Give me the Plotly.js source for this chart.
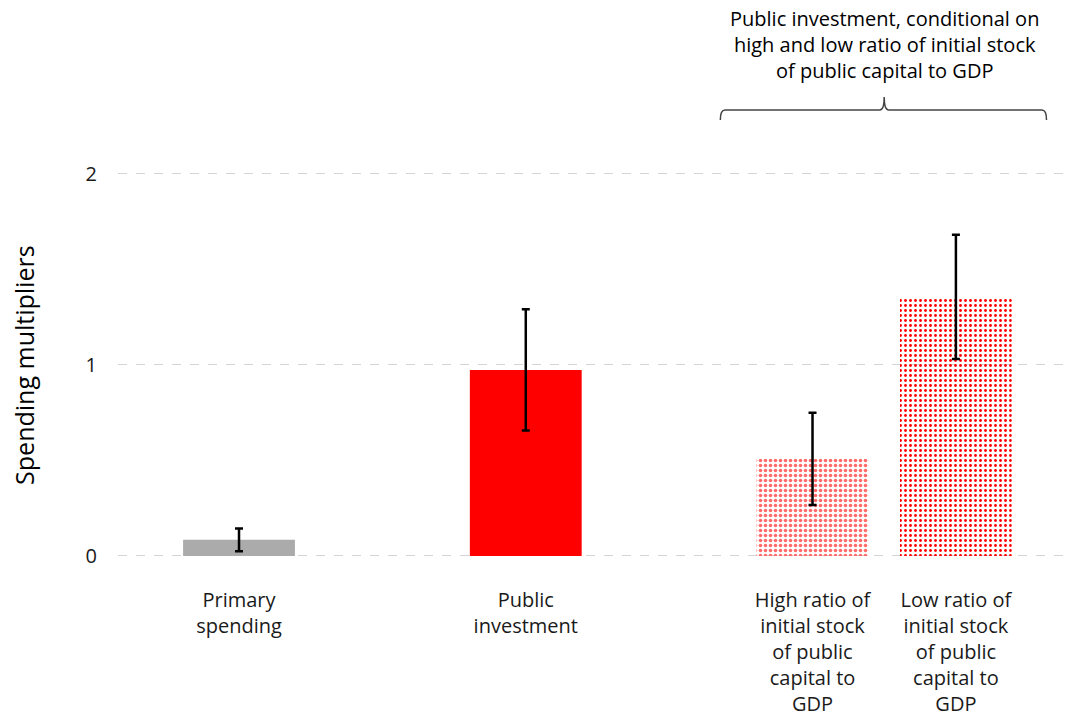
<!DOCTYPE html>
<html>
<head>
<meta charset="utf-8">
<script src="https://cdn.plot.ly/plotly-3.0.1.min.js"></script>
<style>html,body{margin:0;padding:0;background:#fff;}#chart{width:1065px;height:723px;}</style>
</head>
<body>
<div id="chart"></div>
<script>
// Data
const categories = ["Primary<br>spending", "Public<br>investment", "High ratio of<br>initial stock<br>of public<br>capital to<br>GDP", "Low ratio of<br>initial stock<br>of public<br>capital to<br>GDP"];
const positions = [0, 2, 4, 5];
const multipliers = [0.084, 0.974, 0.508, 1.356];
const errorHalfWidth = [0.06, 0.318, 0.241, 0.325];
const yTickVals = [0, 1, 2];
const yTickText = ["0", "1", "2"];
const yTitle = "Spending multipliers";
const groupNote = "Public investment, conditional on<br>high and low ratio of initial stock<br>of public capital to GDP";

const FONT = "'Open Sans', 'Noto Sans', sans-serif";

const colors = ["#ababab", "#ff0000", "#ff6a6a", "#ff0000"];
const patternShapes = ["", "", ".", "."];
const patternBg = ["#ababab", "#ff0000", "#ff5c5c", "#ff0000"];
const patternFg = ["#ababab", "#ff0000", "#ffffff", "#ffffff"];
const patternSize = [6, 6, 5, 5];
const patternSolidity = [0.3, 0.3, 0.4, 0.25];

const trace = {
  type: "bar",
  x: positions,
  y: multipliers,
  width: 0.78,
  marker: {
    color: colors,
    line: {width: 0},
    pattern: {
      shape: patternShapes,
      bgcolor: patternBg,
      fgcolor: patternFg,
      fgopacity: 1,
      size: patternSize,
      solidity: patternSolidity,
      fillmode: "replace"
    }
  },
  error_y: {
    type: "data",
    array: errorHalfWidth,
    visible: true,
    color: "#000000",
    thickness: 2.5,
    width: 4
  },
  hoverinfo: "skip"
};

const layout = {
  width: 1065,
  height: 723,
  margin: {l: 118, r: 2, t: 88, b: 148},
  paper_bgcolor: "#ffffff",
  plot_bgcolor: "#ffffff",
  showlegend: false,
  font: {family: FONT, size: 20, color: "#1a1a1a"},
  xaxis: {
    range: [-0.844, 5.747],
    tickvals: positions,
    ticktext: categories,
    showgrid: false,
    zeroline: false,
    showline: false,
    ticks: "",
    ticklabelstandoff: 11,
    tickfont: {family: FONT, size: 20, color: "#1a1a1a"},
    fixedrange: true
  },
  yaxis: {
    range: [-0.1, 2.45],
    tickvals: yTickVals,
    ticktext: yTickText,
    showgrid: true,
    gridcolor: "#d4d4d4",
    griddash: "dash",
    gridwidth: 1,
    zeroline: false,
    showline: false,
    ticks: "",
    ticklabelstandoff: 20,
    tickfont: {family: FONT, size: 20, color: "#1a1a1a"},
    fixedrange: true
  },
  shapes: [
    {
      type: "path",
      xref: "x", yref: "y",
      path: "M 3.357 2.283 Q 3.357 2.335 3.39 2.335 L 4.47 2.335 Q 4.5 2.335 4.5 2.403 Q 4.5 2.335 4.53 2.335 L 5.6 2.335 Q 5.632 2.335 5.632 2.283",
      line: {color: "#444444", width: 1.5}
    }
  ],
  annotations: [
    {
      xref: "x", yref: "paper",
      x: 4.5, y: 1.09,
      text: groupNote,
      showarrow: false,
      xanchor: "center", yanchor: "middle",
      align: "center",
      font: {family: FONT, size: 20, color: "#000000"}
    },
    {
      xref: "paper", yref: "y",
      x: -0.0995, y: 1.0,
      text: yTitle,
      textangle: -90,
      showarrow: false,
      xanchor: "center", yanchor: "middle",
      font: {family: FONT, size: 25, color: "#000000"}
    }
  ]
};

Plotly.newPlot("chart", [trace], layout, {displayModeBar: false, staticPlot: true});
</script>
</body>
</html>
